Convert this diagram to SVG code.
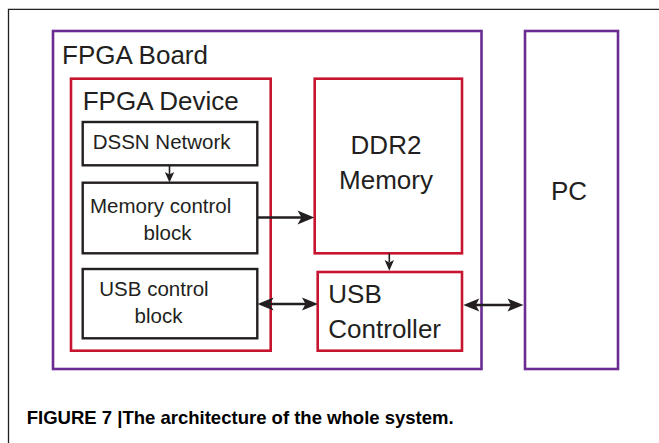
<svg xmlns="http://www.w3.org/2000/svg" width="659" height="443" viewBox="0 0 659 443">
<style>
.purple{fill:none;stroke:#6a2c92;stroke-width:2.6}
.red{fill:none;stroke:#c8152f;stroke-width:2.6}
.blk{fill:none;stroke:#231f20;stroke-width:2.4}
.t{font-family:"Liberation Sans",Arial,sans-serif;fill:#231f20}
.big{font-size:26px}
.small{font-size:20.5px}
.cap{font-family:"Liberation Sans",Arial,sans-serif;font-weight:bold;font-size:18.5px;fill:#000}
.ln{stroke:#231f20;fill:none}
.head{fill:#231f20}
</style>
<rect x="0" y="0" width="659" height="443" fill="#fff"/>
<path d="M8.5 443 V9.3 H659" fill="none" stroke="#231f20" stroke-width="1.3"/>
<g id="fpga-board">
<rect class="purple" x="53" y="31" width="428.5" height="338"/>
<text class="t big" x="62" y="64">FPGA Board</text>
</g>
<g id="pc">
<rect class="purple" x="525" y="31" width="93" height="338"/>
<text class="t big" x="569" y="200" text-anchor="middle">PC</text>
</g>
<g id="fpga-device">
<rect class="red" x="71" y="78.7" width="199.7" height="272"/>
<text class="t big" x="82.7" y="110">FPGA Device</text>
</g>
<g id="ddr2">
<rect class="red" x="314.7" y="78.7" width="147.3" height="174.6"/>
<text class="t big" x="386" y="154.3" text-anchor="middle">DDR2</text>
<text class="t big" x="386" y="189.3" text-anchor="middle">Memory</text>
</g>
<g id="usb-controller">
<rect class="red" x="317.7" y="272" width="144.3" height="78.7"/>
<text class="t big" x="328.3" y="302.7">USB</text>
<text class="t big" x="328.3" y="338.3">Controller</text>
</g>
<g id="dssn">
<rect class="blk" x="82.7" y="122" width="174.6" height="43.3"/>
<text class="t small" x="92.7" y="149.3">DSSN Network</text>
</g>
<g id="mem-ctrl">
<rect class="blk" x="82.7" y="182.7" width="174.6" height="70.6"/>
<text class="t small" x="90" y="213.3">Memory control</text>
<text class="t small" x="167.5" y="240" text-anchor="middle">block</text>
</g>
<g id="usb-ctrl">
<rect class="blk" x="82.7" y="269" width="174.6" height="69.3"/>
<text class="t small" x="99.3" y="296">USB control</text>
<text class="t small" x="158.5" y="322.7" text-anchor="middle">block</text>
</g>
<g id="connectors">
<line class="ln" stroke-width="1.6" x1="169.5" y1="165.3" x2="169.5" y2="175"/>
<path class="head" d="M169.5 182.5 L164.8 172 L169.5 174.5 L174.2 172 Z"/>
<line class="ln" stroke-width="1.6" x1="389.3" y1="253.3" x2="389.3" y2="262"/>
<path class="head" d="M389.3 270.8 L384.6 260 L389.3 262.5 L394 260 Z"/>
<line class="ln" stroke-width="2.6" x1="257.3" y1="217.5" x2="303" y2="217.5"/>
<path class="head" d="M314.3 217.5 L297.5 210.5 L301.5 217.5 L297.5 224.5 Z"/>
<line class="ln" stroke-width="2.6" x1="262" y1="304" x2="313" y2="304"/>
<path class="head" d="M257.5 304 L273.5 297.5 L270 304 L273.5 310.5 Z"/>
<path class="head" d="M318 304 L302 297.5 L305.5 304 L302 310.5 Z"/>
<line class="ln" stroke-width="2.6" x1="468" y1="305" x2="519" y2="305"/>
<path class="head" d="M463.3 305 L479.3 298.5 L475.8 305 L479.3 311.5 Z"/>
<path class="head" d="M523.5 305 L507.5 298.5 L511 305 L507.5 311.5 Z"/>
</g>
<text class="cap" x="26.7" y="424" textLength="427" lengthAdjust="spacingAndGlyphs">FIGURE 7 |The architecture of the whole system.</text>
</svg>
